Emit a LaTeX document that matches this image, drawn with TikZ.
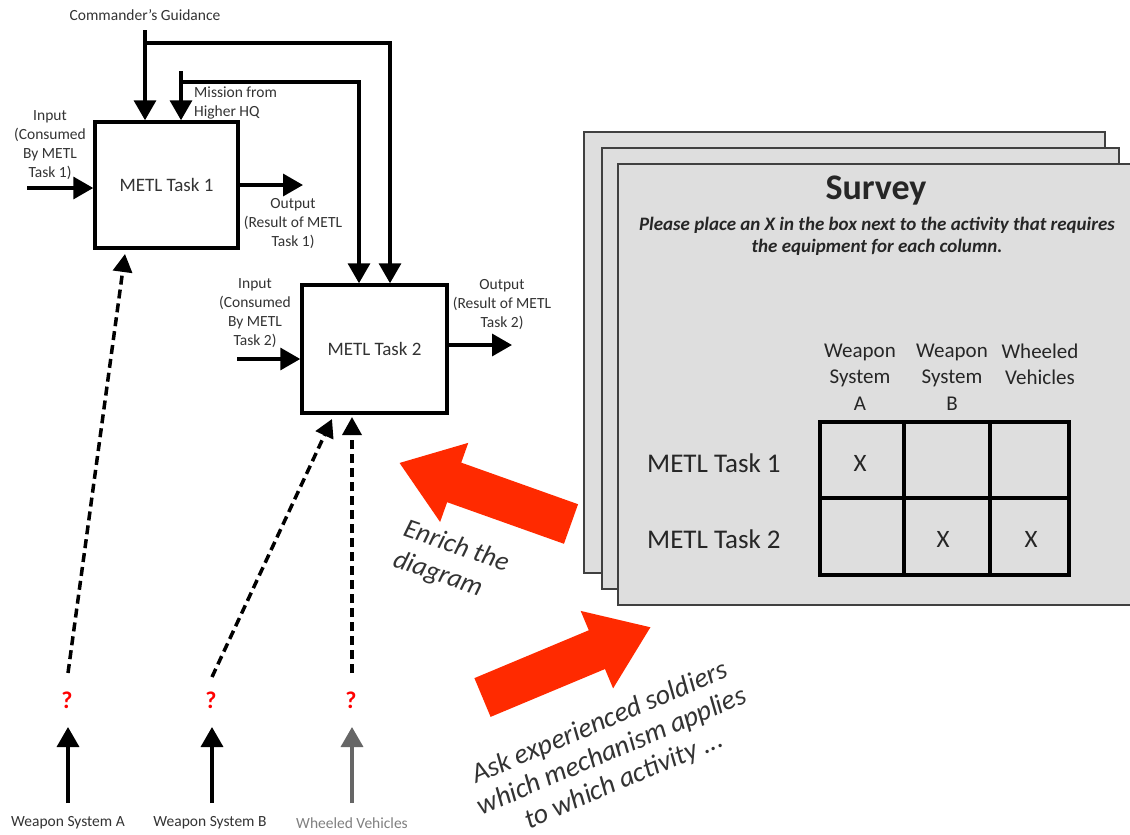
\documentclass[tikz,border=0pt]{standalone}
\usepackage{fontspec}
\setmainfont{Carlito}
\usetikzlibrary{arrows.meta}
\newcommand\myfs[2]{\fontsize{#1}{#2}\selectfont}
\definecolor{txt}{HTML}{333333}
\definecolor{redarrow}{HTML}{FF2A00}
\definecolor{pagefill}{HTML}{DEDEDE}
\definecolor{pageline}{HTML}{404040}
\begin{document}
\begin{tikzpicture}[x=1pt,y=-1pt,
  task/.style={draw=black, line width=3.5pt, fill=white, inner sep=0pt, font=\myfs{19}{23}, text=txt},
  flow/.style={line width=3.5pt, -{Triangle[length=20pt,width=22pt]}},
  flowline/.style={line width=3.5pt},
  dashflow/.style={line width=3.5pt, dash pattern=on 9pt off 5pt, -{Triangle[length=18pt,width=19pt]}},
  lbl/.style={font=\myfs{15.5}{19}, text=txt, align=center, inner sep=0pt},
  qm/.style={font=\bfseries\myfs{24}{24}, text=red, inner sep=0pt},
  page/.style={fill=pagefill, draw=pageline, line width=1.5pt},
  bigarrow/.style={fill=redarrow},
  note/.style={font=\itshape\myfs{27}{32}, text=txt, inner sep=0pt},
  cellline/.style={line width=4pt},
  survtxt/.style={text=black!85, inner sep=0pt}
]
\useasboundingbox (0,0) rectangle (1130,835);
\fill[white] (0,0) rectangle (1130,835);

% ---------- IDEF0 diagram ----------
\node[task, minimum width=143pt, minimum height=126pt] (t1) at (166.5,185) {METL Task 1};
\node[task, minimum width=145pt, minimum height=128pt] (t2) at (374.5,349) {METL Task 2};

% Commander's guidance
\node[lbl] (cgl) at (145,15) {Commander’s Guidance};
\coordinate (cg) at (145,30);
\coordinate (cgj) at (145,43);
\coordinate (cg2) at (390,43);
\draw[flow] (cg) -- (cg |- t1.north);
\draw[flow] (cgj) -- (cg2) -- (cg2 |- t2.north);

% Mission from higher HQ
\node[lbl, align=left, anchor=west] (mhl) at (194,103) {Mission from\\Higher HQ};
\coordinate (mh) at (181,71);
\coordinate (mhj) at (181,82);
\coordinate (mh2) at (359,82);
\draw[flow] (mh) -- (mh |- t1.north);
\draw[flow] (mhj) -- (mh2) -- (mh2 |- t2.north);

% Task 1 input / output
\node[lbl] (in1l) at (50,145) {Input\\(Consumed\\By METL\\Task 1)};
\coordinate (in1) at (27,188);
\draw[flow] (in1) -- (in1 -| t1.west);
\coordinate (out1) at (303,185);
\draw[flow] (t1.east |- out1) -- (out1);
\node[lbl] (out1l) at (293,224) {Output\\(Result of METL\\Task 1)};

% Task 2 input / output
\node[lbl] (in2l) at (255,313.5) {Input\\(Consumed\\By METL\\Task 2)};
\coordinate (in2) at (237,359);
\draw[flow] (in2) -- (in2 -| t2.west);
\coordinate (out2) at (512,345);
\draw[flow] (t2.east |- out2) -- (out2);
\node[lbl] (out2l) at (502,304.5) {Output\\(Result of METL\\Task 2)};

% question marks and mechanisms
\node[qm] (qa) at (67,700) {?};
\node[qm] (qb) at (211,700) {?};
\node[qm] (qc) at (351,700) {?};
\coordinate (qat) at (68,673);
\coordinate (qbt) at (212,677);
\coordinate (qct) at (352,673);
\coordinate (t1a) at (125,254);
\coordinate (t2b) at (332,419);
\coordinate (t2c) at (352,417);
\draw[dashflow] (qat) -- (t1a);
\draw[dashflow] (qbt) -- (t2b);
\draw[dashflow] (qct) -- (t2c);

\node[lbl] (wa) at (68,823) {Weapon System A};
\node[lbl] (wb) at (210,823) {Weapon System B};
\node[lbl, text=black!50] (wc) at (352,823) {Wheeled Vehicles};
\coordinate (wat) at (68,803);
\coordinate (wbt) at (212,803);
\coordinate (wct) at (352,803);
\coordinate (wah) at (68,727);
\coordinate (wbh) at (212,727);
\coordinate (wch) at (352,727);
\draw[flow] (wat) -- (wah);
\draw[flow] (wbt) -- (wbh);
\draw[flow, draw=black!60, fill=black!60] (wct) -- (wch);

% ---------- Survey pages ----------
\filldraw[page] (584,132) rectangle (1105,573);
\filldraw[page] (602,148) rectangle (1119,589);
\filldraw[page] (618,164) rectangle (1134,605);

\node[survtxt, font=\bfseries\myfs{36}{40}] (st) at (876,191) {Survey};
\node[survtxt, font=\bfseries\itshape\myfs{19}{22}, align=center] (ss) at (877,236)
  {Please place an X in the box next to the activity that requires\\the equipment for each column.};

\node[survtxt, font=\myfs{21}{26.5}, align=center] (ha) at (860,377) {Weapon\\System\\A};
\node[survtxt, font=\myfs{21}{26.5}, align=center] (hb) at (952,377) {Weapon\\System\\B};
\node[survtxt, font=\myfs{21}{26.5}, align=center] (hc) at (1040,364.5) {Wheeled\\Vehicles};

\node[survtxt, font=\myfs{27}{30}, anchor=west] (r1) at (647,463) {METL Task 1};
\node[survtxt, font=\myfs{27}{30}, anchor=west] (r2) at (647,539) {METL Task 2};

\draw[cellline] (820,422) rectangle (1069,575);
\draw[cellline] (904,422) -- (904,575);
\draw[cellline] (990,422) -- (990,575);
\draw[cellline] (820,498) -- (1069,498);

\node[survtxt, font=\myfs{25}{28}] (x1) at (860,463) {X};
\node[survtxt, font=\myfs{25}{28}] (x2) at (943,539) {X};
\node[survtxt, font=\myfs{25}{28}] (x3) at (1031,539) {X};

% ---------- Red block arrows ----------
\begin{scope}[shift={(571,524)}, rotate=160.4]
  \fill[bigarrow] (0,-21) -- (124,-21) -- (124,-42) -- (182,0) -- (124,42) -- (124,21) -- (0,21) -- cycle;
\end{scope}
\begin{scope}[shift={(482.5,697.5)}, rotate=22.7]
  \fill[bigarrow] (0,-21) -- (124,-21) -- (124,-42) -- (182,0) -- (124,42) -- (124,21) -- (0,21) -- cycle;
\end{scope}

\node[note, align=left, rotate=-19] (en) at (451,562) {Enrich the\\diagram};
\node[note, font=\itshape\myfs{28}{31}, align=center, rotate=23] (ask) at (612,752) {Ask experienced soldiers\\which mechanism applies\\to which activity ...};
\end{tikzpicture}
\end{document}
